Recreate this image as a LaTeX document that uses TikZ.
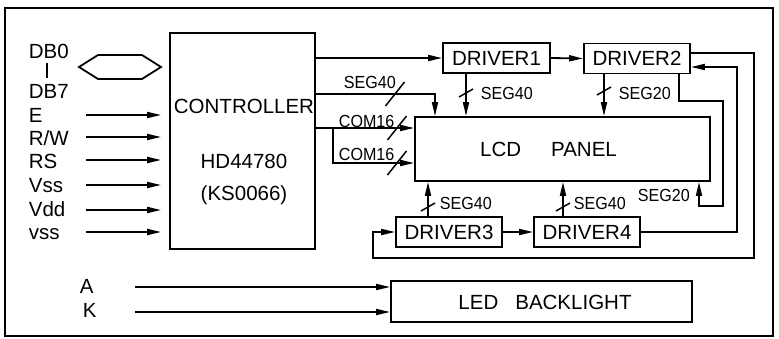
\documentclass[tikz,border=0pt]{standalone}
\usepackage{fontspec}
\setmainfont{Liberation Sans}
\newfontfamily\smallcad[FakeStretch=0.92]{Liberation Sans}
\usetikzlibrary{arrows.meta,calc}
\begin{document}
\begin{tikzpicture}[x=1pt,y=-1pt, line width=1.8pt,
  big/.style={font=\fontsize{20.5}{24}\selectfont, inner sep=0pt},
  small/.style={font=\smallcad\fontsize{17.5}{20}\selectfont, inner sep=0pt},
  box/.style={draw, line width=1.8pt, inner sep=0pt, font=\fontsize{20.5}{24}\selectfont},
  arr/.style={-{Triangle[length=14pt,width=6pt]}},
  hslash/.style={line width=1.5pt},
]
\useasboundingbox (0,0) rectangle (779,338);
\draw[line width=2.2pt] (5,8) rectangle (773,336);

% controller
\node[box, minimum width=145pt, minimum height=216pt] (ctrl) at (242.5,141) {};
\node[big, anchor=base] (t1) at (244,113) {CONTROLLER};
\node[big, anchor=base] (t2) at (244,168) {HD44780};
\node[big, anchor=base] (t3) at (244,200) {(KS0066)};

% drivers
\node[box, minimum width=107pt, minimum height=30pt] (drv1) at (496.5,58) {DRIVER1};
\node[box, minimum width=106pt, minimum height=30pt] (drv2) at (637,58.5) {DRIVER2};
\node[box, minimum width=106pt, minimum height=30pt] (drv3) at (449,232) {DRIVER3};
\node[box, minimum width=106pt, minimum height=30pt] (drv4) at (587,232) {DRIVER4};

% LCD
\node[box, minimum width=295pt, minimum height=64pt] (lcd) at (562.5,149) {};
\node[big] (lcdt) at (548.5,149) {LCD\hspace{30pt}PANEL};

% LED
\node[box, minimum width=301pt, minimum height=41pt] (led) at (541.5,301.5) {};
\node[big] (ledt) at (545,302) {LED\hspace{17pt}BACKLIGHT};

% left labels
\node[big, anchor=base west] (lDB0) at (28,58) {DB0};
\draw[line width=1.4pt] (47,63) -- (47,78);
\node[big, anchor=base west] (lDB7) at (28,98) {DB7};
\node[big, anchor=base west] (lE) at (28,122) {E};
\node[big, anchor=base west] (lRW) at (28,145) {R/W};
\node[big, anchor=base west] (lRS) at (28,168) {RS};
\node[big, anchor=base west] (lVss) at (28,192) {Vss};
\node[big, anchor=base west] (lVdd) at (28,216) {Vdd};
\node[big, anchor=base west] (lvss) at (28,239) {vss};

% hexagon bus
\draw (79,67) -- (98,55) -- (142,55) -- (161,67) -- (142,79) -- (98,79) -- cycle;

% input arrows
\foreach \y/\n in {115/a,137/b,160/c,185/d,210/e,232/f}{
  \coordinate (in\n) at (86,\y);
  \draw[arr] (in\n) -- ($(in\n -| ctrl.west)+(-8,0)$);
}

% A, K
\node[big, anchor=base west] (lA) at (79,293) {A};
\node[big, anchor=base west] (lK) at (82,317) {K};
\coordinate (inA) at (135,287);
\coordinate (inK) at (135,312);
\draw[arr] (inA) -- (inA -| led.west);
\draw[arr] (inK) -- (inK -| led.west);

% controller -> driver1
\draw[arr] (ctrl.east |- drv1.west) -- (drv1.west);
\draw[arr] (drv1.east) -- (drv2.west);

% SEG40 from controller
\draw[arr] (ctrl.east |- 0,94) -| (lcd.north -| 435,0);
\draw[hslash] (385.5,106) -- (404.5,82);
\node[small, anchor=west] (s1) at (343,82) {SEG40};

% COM16
\draw[arr] (ctrl.east |- 0,128) -- (lcd.west |- 0,128);
\draw[arr] (333,128) |- (lcd.west |- 0,163);
\draw[hslash] (387.5,140) -- (406.5,116);
\draw[hslash] (387.5,175) -- (406.5,151);
\node[small, anchor=west] (c1) at (338,121) {COM16};
\node[small, anchor=west] (c2) at (338,154) {COM16};

% driver1 / driver2 down
\draw[arr] (drv1.south -| 466,0) -- (lcd.north -| 466,0);
\draw[hslash] (459,97) -- (473,89);
\node[small, anchor=west] (s2) at (480,93) {SEG40};
\draw[arr] (drv2.south -| 604,0) -- (lcd.north -| 604,0);
\draw[hslash] (597,95) -- (611,87);
\node[small, anchor=west] (s3) at (618,93) {SEG20};

% driver3 / driver4 up
\draw[arr] (drv3.north -| 428,0) -- (lcd.south -| 428,0);
\draw[hslash] (421,211) -- (435,203);
\node[small, anchor=west] (s4) at (439,203) {SEG40};
\draw[arr] (drv4.north -| 563,0) -- (lcd.south -| 563,0);
\draw[hslash] (556,211) -- (570,203);
\node[small, anchor=west] (s5) at (573,203) {SEG40};

\draw[arr] (drv3.east) -- (drv4.west);

% right-hand wiring
\draw[arr] (drv2.east |- 0,53) -- (754,53) -- (754,258) -- (373,258) -- (373,232) -- (drv3.west);
\draw[arr] (drv4.east) -- (737,232) -- (737,67) -- (drv2.east |- 0,67);
\draw[arr] (drv2.south -| 679,0) -- (679,101) -- (723,101) -- (723,206) -- (699,206) -- (lcd.south -| 699,0);
\node[small, anchor=west] (s6) at (637,195) {SEG20};
\end{tikzpicture}
\end{document}
